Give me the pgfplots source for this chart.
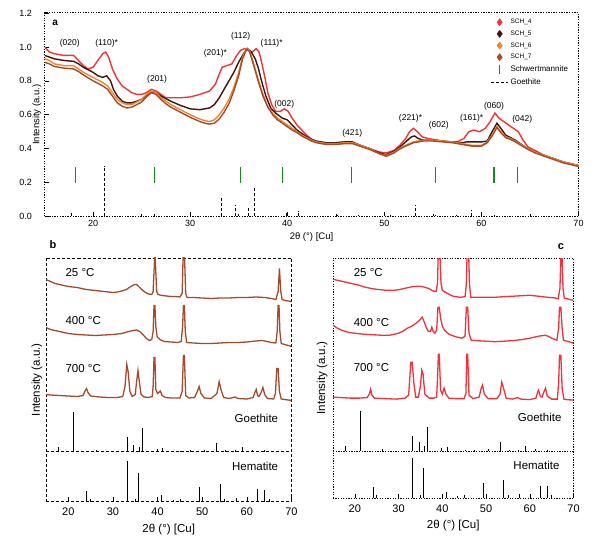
\documentclass[border=0pt]{standalone}
\usepackage{fontspec}
\setmainfont{Liberation Sans}
\usepackage{pgfplots}
\pgfplotsset{compat=1.18}
\definecolor{cA}{RGB}{240,52,55}
\definecolor{cB}{RGB}{62,22,14}
\definecolor{cC}{RGB}{240,135,45}
\definecolor{cD}{RGB}{165,75,45}
\definecolor{cG}{RGB}{20,140,30}
\definecolor{cR}{RGB}{240,50,60}
\tikzset{dotframe/.style={dash pattern=on 1.3pt off 1.3pt, line width=1pt}}
\pgfplotsset{
  sticks/.style={draw=none, mark=none, forget plot, error bars/.cd, y dir=plus, y explicit, error mark=none, error bar style={draw=black, solid, line width=0.9pt}},
  dsticks/.style={draw=none, mark=none, forget plot, error bars/.cd, y dir=plus, y explicit, error mark=none, error bar style={draw=black, densely dashed, line width=0.8pt}},
}
\begin{document}
\begin{tikzpicture}
\useasboundingbox (0pt,0pt) rectangle (605pt,536pt);
% ---------------- panel a ----------------
\begin{axis}[
  at={(44.5pt,319.5pt)}, anchor=south west, scale only axis,
  width=534pt, height=203.5pt,
  xmin=15, xmax=70, ymin=0, ymax=1.2,
  xtick={20,30,40,50,60,70}, ytick={0,0.2,0.4,0.6,0.8,1.0,1.2},
  minor x tick num=1, tick pos=left,
  y tick label style={/pgf/number format/fixed, /pgf/number format/fixed zerofill, /pgf/number format/precision=1, xshift=-9pt},
  tick label style={font=\fontsize{9}{10}\selectfont, /pgf/number format/assume math mode=true},
  axis line style={dotframe},
  tick style={black, solid, line width=0.5pt},
  xlabel={2θ (°) [Cu]}, ylabel={Intensity (a.u.)},
  label style={font=\fontsize{9.5}{11}\selectfont},
  xlabel style={at={(axis description cs:0.5,-0.10)}, anchor=center},
  ylabel style={at={(axis description cs:-0.014,0.5)}, anchor=center},
  legend style={at={(0.99,0.99)}, anchor=north east, draw=none, fill=none, font=\fontsize{8}{9.5}\selectfont, row sep=1.6pt},
  legend cell align=left,
]
\addplot[forget plot, cA, line width=1.4pt] coordinates {
(15,1.00)(15.5,0.97)(16,0.96)(17,0.95)(18,0.95)(18.5,0.92)(19,0.89)(19.5,0.87)(20,0.88)(20.5,0.92)(21,0.96)(21.3,0.97)(21.6,0.94)(22,0.87)(22.5,0.81)(23,0.77)(23.5,0.75)(24,0.73)(24.5,0.72)(25,0.72)(25.5,0.73)(26,0.75)(26.5,0.74)(27,0.72)(27.5,0.70)(28,0.70)(29,0.70)(30,0.705)(31,0.72)(32,0.74)(32.6,0.78)(33,0.84)(33.3,0.88)(33.8,0.89)(34.3,0.90)(34.8,0.95)(35.2,0.98)(35.6,0.99)(36.0,0.98)(36.4,0.97)(36.8,0.99)(37.1,0.97)(37.4,0.90)(37.7,0.82)(38.0,0.73)(38.4,0.66)(38.8,0.62)(39.3,0.62)(39.7,0.635)(40.1,0.62)(40.5,0.58)(41,0.54)(41.5,0.51)(42,0.48)(42.5,0.455)(43,0.44)(44,0.43)(45,0.435)(46,0.44)(46.7,0.435)(47.5,0.42)(48.5,0.40)(49.5,0.38)(50.2,0.375)(51,0.39)(51.6,0.42)(52.2,0.46)(52.6,0.50)(53.0,0.52)(53.4,0.50)(53.9,0.47)(54.5,0.46)(55.5,0.45)(56.5,0.44)(57.5,0.44)(58.2,0.46)(58.7,0.50)(59.2,0.51)(59.8,0.50)(60.4,0.52)(60.9,0.56)(61.4,0.61)(61.8,0.58)(62.3,0.56)(62.8,0.54)(63.3,0.52)(63.8,0.50)(64.3,0.45)(64.8,0.41)(65.5,0.39)(66.5,0.36)(67.5,0.34)(68.5,0.32)(69.3,0.31)(70,0.30)};
\addplot[forget plot, cB, line width=1.4pt] coordinates {
(15,0.95)(16,0.93)(17,0.92)(18,0.915)(18.5,0.90)(19,0.88)(20,0.85)(20.5,0.83)(21,0.82)(21.4,0.83)(21.8,0.80)(22.1,0.75)(22.5,0.71)(23,0.68)(23.5,0.67)(24,0.67)(25,0.69)(26,0.735)(26.5,0.73)(27,0.71)(28,0.68)(29,0.655)(30,0.635)(31,0.63)(32,0.64)(32.5,0.66)(33,0.70)(33.5,0.75)(34,0.80)(34.5,0.85)(35,0.91)(35.5,0.96)(35.9,0.99)(36.3,0.97)(36.7,0.93)(37,0.88)(37.4,0.79)(37.8,0.71)(38.3,0.64)(38.8,0.61)(39.5,0.58)(40,0.57)(40.5,0.54)(41,0.51)(41.5,0.49)(42,0.47)(42.5,0.455)(43,0.445)(44,0.435)(45,0.435)(46,0.44)(46.7,0.44)(47.5,0.42)(48.5,0.40)(49.5,0.375)(50.2,0.365)(51,0.385)(51.6,0.41)(52.2,0.44)(52.8,0.47)(53.1,0.475)(53.5,0.46)(54,0.45)(55,0.45)(56,0.445)(57,0.44)(58,0.435)(58.5,0.44)(59,0.44)(60,0.44)(60.6,0.445)(61.1,0.50)(61.6,0.55)(62,0.52)(62.5,0.48)(63,0.465)(63.5,0.45)(64.5,0.41)(65.5,0.38)(66.5,0.36)(67.5,0.34)(68.5,0.32)(69.3,0.31)(70,0.30)};
\addplot[forget plot, cC, line width=1.4pt] coordinates {
(15,0.93)(15.5,0.92)(16,0.90)(17,0.89)(17.5,0.89)(18,0.89)(18.5,0.87)(19,0.85)(20,0.82)(21,0.79)(21.5,0.77)(22,0.73)(22.5,0.69)(23,0.67)(23.5,0.66)(24,0.66)(25,0.69)(25.5,0.72)(26,0.74)(26.5,0.73)(27,0.70)(27.5,0.68)(28,0.66)(29,0.63)(30,0.60)(31,0.575)(31.5,0.565)(32,0.56)(32.5,0.57)(33,0.60)(33.5,0.64)(34,0.69)(34.5,0.76)(35,0.85)(35.4,0.94)(35.8,0.99)(36.1,0.98)(36.5,0.91)(37,0.81)(37.5,0.72)(38,0.65)(38.5,0.61)(39,0.58)(39.5,0.56)(40,0.54)(40.5,0.52)(41,0.50)(41.5,0.48)(42,0.465)(42.5,0.45)(43,0.44)(44,0.43)(45,0.43)(46,0.435)(46.7,0.435)(47.5,0.42)(48.5,0.40)(49.5,0.37)(50.2,0.36)(51,0.38)(51.5,0.40)(52.2,0.42)(53,0.44)(54,0.45)(55,0.45)(56,0.445)(57,0.44)(58,0.43)(59,0.42)(60,0.42)(60.6,0.44)(61.1,0.48)(61.6,0.53)(62,0.50)(62.5,0.47)(63,0.46)(63.5,0.445)(64.5,0.41)(65.5,0.38)(66.5,0.36)(67.5,0.34)(68.5,0.32)(69.3,0.31)(70,0.30)};
\addplot[forget plot, cD, line width=1.4pt] coordinates {
(15,0.91)(15.5,0.90)(16,0.885)(17,0.875)(18,0.87)(18.5,0.855)(19,0.835)(20,0.80)(21,0.77)(21.5,0.75)(22,0.71)(22.5,0.67)(23,0.65)(23.5,0.64)(24,0.645)(25,0.675)(25.5,0.705)(26,0.73)(26.5,0.72)(27,0.69)(27.5,0.665)(28,0.645)(29,0.615)(30,0.585)(31,0.56)(31.5,0.55)(32,0.545)(32.5,0.55)(33,0.575)(33.5,0.615)(34,0.665)(34.5,0.74)(35,0.83)(35.4,0.93)(35.8,0.985)(36.1,0.975)(36.5,0.90)(37,0.80)(37.5,0.71)(38,0.645)(38.5,0.60)(39,0.57)(39.5,0.55)(40,0.53)(40.5,0.51)(41,0.495)(41.5,0.475)(42,0.46)(42.5,0.445)(43,0.435)(44,0.425)(45,0.425)(46,0.43)(46.7,0.43)(47.5,0.415)(48.5,0.395)(49.5,0.37)(50.2,0.355)(51,0.375)(51.5,0.395)(52.2,0.415)(53,0.435)(54,0.445)(55,0.445)(56,0.44)(57,0.435)(58,0.425)(59,0.415)(60,0.415)(60.6,0.435)(61.1,0.475)(61.6,0.525)(62,0.495)(62.5,0.465)(63,0.455)(63.5,0.44)(64.5,0.405)(65.5,0.375)(66.5,0.355)(67.5,0.335)(68.5,0.315)(69.3,0.305)(70,0.295)};
% Schwertmannite reference ticks
\addplot[forget plot, only marks, mark=|, mark size=7.6pt, color=cG, mark options={line width=1.1pt}] coordinates {
(18.2,0.245)(26.3,0.245)(35.2,0.245)(39.5,0.245)(46.6,0.245)(55.3,0.245)(61.3,0.245)(63.7,0.245)};
% Goethite reference
\addplot[dsticks] table[x=x, y=y, y error=e] {
x y e
17.8 0 0.025
21.2 0 0.30
26.3 0 0.012
33.2 0 0.115
34.7 0 0.07
36.0 0 0.05
36.6 0 0.17
39.9 0 0.02
41.2 0 0.03
45.2 0 0.008
47.3 0 0.008
50.6 0 0.01
53.2 0 0.065
55.3 0 0.01
57.4 0 0.01
59.0 0 0.04
61.3 0 0.006
};
\addlegendimage{only marks, mark=diamond*, mark size=3.6pt, color=cA}
\addlegendentry{\fontsize{6.5}{8}\selectfont SCH\_4}
\addlegendimage{only marks, mark=diamond*, mark size=3.6pt, color=cB}
\addlegendentry{\fontsize{6.5}{8}\selectfont SCH\_5}
\addlegendimage{only marks, mark=diamond*, mark size=3.6pt, color=cC}
\addlegendentry{\fontsize{6.5}{8}\selectfont SCH\_6}
\addlegendimage{only marks, mark=diamond*, mark size=3.6pt, color=cD}
\addlegendentry{\fontsize{6.5}{8}\selectfont SCH\_7}
\addlegendimage{only marks, mark=|, mark size=4.5pt, color=cG, mark options={line width=1.1pt}}
\addlegendentry{Schwertmannite}
\addlegendimage{black, densely dashed, line width=0.8pt}
\addlegendentry{Goethite}
\begin{scope}[font=\fontsize{8.5}{10}\selectfont]
\node at (axis cs:17.6,1.02) {(020)};
\node at (axis cs:21.4,1.02) {(110)*};
\node at (axis cs:26.6,0.81) {(201)};
\node at (axis cs:32.6,0.96) {(201)*};
\node at (axis cs:35.2,1.065) {(112)};
\node at (axis cs:38.4,1.02) {(111)*};
\node at (axis cs:39.7,0.66) {(002)};
\node at (axis cs:46.7,0.49) {(421)};
\node at (axis cs:52.7,0.58) {(221)*};
\node at (axis cs:55.6,0.54) {(602)};
\node at (axis cs:59.0,0.58) {(161)*};
\node at (axis cs:61.3,0.65) {(060)};
\node at (axis cs:64.2,0.575) {(042)};
\end{scope}
\node[font=\bfseries\fontsize{10}{12}\selectfont] at (axis cs:16.1,1.14) {a};
\end{axis}
% ---------------- panel b ----------------
\begin{axis}[
  at={(46pt,34.5pt)}, anchor=south west, scale only axis,
  width=245.5pt, height=243.5pt,
  xmin=15, xmax=70, ymin=0, ymax=243.5,
  xtick={20,30,40,50,60,70}, ytick=\empty,
  minor x tick num=1, tick pos=left,
  tick label style={font=\fontsize{11}{12}\selectfont, /pgf/number format/assume math mode=true},
  xticklabel style={yshift=-3pt},
  axis line style={densely dashed, line width=0.9pt},
  tick style={black, solid, line width=0.5pt},
  xlabel={2θ (°) [Cu]}, ylabel={Intensity (a.u.)},
  label style={font=\fontsize{11.5}{13}\selectfont},
  xlabel style={at={(axis description cs:0.5,-0.117)}, anchor=center},
  ylabel style={at={(axis description cs:-0.037,0.5)}, anchor=center},
]
\addplot[forget plot, black, densely dashed, line width=0.9pt] coordinates {(15,50)(70,50)};
\addplot[forget plot, cD, line width=1.3pt] coordinates {
(15,222)(15.5,221)(16,220)(17,218)(18,217)(19,216)(20,215)(21,214.5)(22,214)(23,213)(24,212)(25,211.5)(26,211)(27,210.5)(28,210)(29,209.5)(30,209)(31,209.5)(32,210.5)(33,212)(34,215)(34.8,217)(35.3,217)(36,214)(36.7,211)(37.3,209)(38,207.5)(38.7,207)(39.0,210)(39.2,230)(39.4,250)(39.6,230)(39.8,210)(40.1,207)(41,206)(42,205.5)(43,205)(44,205)(45,204.5)(45.5,208)(45.75,250)(46.0,250)(46.3,208)(46.6,204)(48,204)(50,203.5)(52,203)(54,203.5)(56,203.5)(58,204)(60,204)(62,204.5)(64,204)(65.5,203)(66.5,202)(67.0,210)(67.3,233)(67.6,210)(67.9,202)(68.5,201)(69.3,200.5)(70,200)};
\addplot[forget plot, cD, line width=1.3pt] coordinates {
(15,174)(15.5,173)(16,172)(17,171)(18,170)(19,169)(20,168)(22,167)(24,166.5)(26,166)(28,166.5)(30,167)(32,168)(33.5,170)(34.5,171)(35.3,171.5)(36,170)(36.7,167)(37.5,163)(38.2,161)(38.7,162)(39.0,170)(39.2,196)(39.4,196)(39.6,175)(39.9,165)(40.5,162)(41.5,160)(43,159.5)(44.5,159)(45.3,160)(45.6,175)(45.8,196)(46.0,196)(46.2,170)(46.5,159)(48,158.5)(50,158)(52,158)(54,158.5)(56,159)(58,159)(60,159.5)(62,160.5)(63.5,161)(64.5,160)(65.5,159)(66.5,158.5)(66.8,170)(67.0,196)(67.2,196)(67.4,170)(67.7,158)(68.5,157)(69.3,156)(70,155)};
\addplot[forget plot, cD, line width=1.3pt] coordinates {
(15,107)(16,106.5)(18,106)(20,105.5)(22,105)(23.3,106)(23.8,111)(24.1,113)(24.4,109)(25,105.5)(27,104.5)(29,104)(31,104)(32.2,105)(32.7,115)(33.1,137)(33.4,130)(33.8,110)(34.3,105)(35.0,107)(35.3,120)(35.6,131)(35.9,120)(36.3,107)(37,104.5)(38,104)(38.8,105)(39.0,115)(39.2,144)(39.4,144)(39.6,112)(40.0,108)(40.6,110.5)(41.0,106)(41.8,104)(43,103.5)(45,103.5)(45.5,110)(45.8,146)(46.0,146)(46.3,106)(47,103.5)(48.3,104)(48.9,110)(49.3,115)(49.7,108)(50.5,103.5)(52,103)(53.3,108)(53.8,120)(54.2,112)(54.8,104)(56,103)(57.4,104.5)(58,103)(60,102.5)(61.4,104)(61.8,109)(62.1,112)(62.4,106)(62.7,105)(63.2,109)(63.6,114)(64.0,107)(64.6,103)(66.0,102.5)(66.4,108)(66.7,133)(67.0,133)(67.3,110)(67.7,102.5)(68.5,102)(70,101)};
\addplot[sticks] table[x=x, y=y, y error=e] {
x y e
17.8 50 5
21.2 50 40
26.3 50 2
33.2 50 15
34.7 50 7
36.0 50 5
36.6 50 23.5
39.9 50 3
41.2 50 4
45.2 50 1
47.3 50 1.5
50.6 50 2
53.2 50 8.5
55.3 50 1.5
57.4 50 1.5
59.0 50 5
61.3 50 2
64.0 50 1.5
};
\addplot[sticks] table[x=x, y=y, y error=e] {
x y e
24.14 0 11
33.15 0 41
35.61 0 29
40.85 0 7
43.5 0 2
49.48 0 15
54.09 0 18
57.59 0 4
62.45 0 13
64.0 0 12
};
\begin{scope}[font=\fontsize{11.5}{13}\selectfont]
\node[anchor=west] at (axis cs:18.6,229) {25 °C};
\node[anchor=west] at (axis cs:18.6,181) {400 °C};
\node[anchor=west] at (axis cs:18.6,133) {700 °C};
\node[anchor=east] at (axis cs:67.8,83) {Goethite};
\node[anchor=east] at (axis cs:67.8,35) {Hematite};
\end{scope}
\end{axis}
% ---------------- panel c ----------------
\begin{axis}[
  at={(333pt,38pt)}, anchor=south west, scale only axis,
  width=240.5pt, height=239.7pt,
  xmin=15, xmax=70, ymin=0, ymax=240,
  xtick={20,30,40,50,60,70}, ytick=\empty,
  minor x tick num=1, tick pos=left,
  tick label style={font=\fontsize{11}{12}\selectfont, /pgf/number format/assume math mode=true},
  xticklabel style={yshift=-3pt},
  axis line style={dotframe},
  tick style={black, solid, line width=0.5pt},
  xlabel={2θ (°) [Cu]}, ylabel={Intensity (a.u.)},
  label style={font=\fontsize{11.5}{13}\selectfont},
  xlabel style={at={(axis description cs:0.5,-0.113)}, anchor=center},
  ylabel style={at={(axis description cs:-0.045,0.5)}, anchor=center},
]
\addplot[forget plot, black, dotframe] coordinates {(15,47)(70,47)};
\addplot[forget plot, cR, line width=1.3pt] coordinates {
(15,219)(16,218)(17,217)(18,216)(19,215)(20,214)(21,213)(22,211.5)(23,210.5)(24,209.5)(25,209)(26,208.5)(27,208)(28,208)(29,208)(30,208.5)(31,209.5)(32,210.5)(33,211.5)(34,212)(35,212)(36,211)(37,209.5)(38,207)(38.6,207)(38.9,215)(39.1,250)(39.4,250)(39.7,215)(40.0,208)(40.7,206)(41.5,204)(42.5,202)(44,201)(45.2,201.5)(45.5,215)(45.7,250)(46.0,250)(46.2,215)(46.5,201)(48,201)(50,201)(52,201)(54,201.5)(56,202)(58,202.5)(60,203)(62,202)(64,201)(65.5,200.5)(66.5,199.5)(66.9,210)(67.1,240)(67.4,240)(67.6,210)(67.9,200)(68.5,199.5)(69.3,198.5)(70,198)};
\addplot[forget plot, cR, line width=1.3pt] coordinates {
(15,173)(16,170)(17,168)(18,166.5)(19,165.5)(20,165)(22,164)(24,163.5)(26,163)(28,163)(30,165)(31,167)(32,170)(33,172)(34,175)(34.8,178)(35.4,181)(35.9,176)(36.3,171)(36.8,167)(37.3,167)(37.6,171)(37.9,167)(38.3,165)(38.7,168)(39.0,191)(39.3,191)(39.6,180)(40.0,172)(40.5,168)(41.5,164)(43,161.5)(44.5,160)(45.2,162)(45.5,191)(45.8,191)(46.1,165)(46.6,158)(48,157.5)(50,157)(52,156.5)(54,157)(56,157.5)(58,158.5)(60,160)(62,162)(63.5,163)(64.2,162)(65,160)(66.2,158)(66.6,170)(66.8,191)(67.1,191)(67.4,170)(67.7,158)(68.5,157)(69.3,156)(70,155)};
\addplot[forget plot, cR, line width=1.3pt] coordinates {
(15,101)(17,100.5)(19,100)(21,100)(22.8,100.5)(23.3,104)(23.6,109)(23.9,103)(24.5,100)(27,99.5)(29.5,99)(31.5,100)(32.3,103)(32.8,136)(33.1,136)(33.5,115)(33.9,101)(34.5,101)(35.0,112)(35.3,128)(35.6,124)(36.0,104)(37,100)(38,100)(38.7,101)(38.9,120)(39.1,144)(39.3,144)(39.6,108)(40.0,104)(40.4,110)(40.8,104)(41.5,100)(43,99.5)(45,99.5)(45.4,105)(45.6,144)(45.8,144)(46.1,103)(47,99.5)(48.4,101)(48.9,110)(49.2,113)(49.6,104)(50.5,99.5)(52.5,99.5)(53.2,104)(53.6,116)(54.0,110)(54.6,100)(56,99)(57.2,100.5)(58,99)(60,98.5)(61.4,100)(61.8,106)(62.0,108)(62.4,102)(62.8,101)(63.3,107)(63.6,110)(64.0,102)(65,99)(66.3,99)(66.6,115)(66.8,143)(67.1,143)(67.4,110)(67.8,99)(68.5,98.5)(70,98)};
\addplot[sticks] table[x=x, y=y, y error=e] {
x y e
17.8 47 5
21.2 47 40
26.3 47 2
33.2 47 15
34.7 47 9
36.0 47 5
36.6 47 24
39.9 47 3
41.2 47 4
45.2 47 1
47.3 47 1.5
50.6 47 2
53.2 47 9
55.3 47 1.5
57.4 47 1.5
59.0 47 5
61.3 47 2
64.0 47 1.5
};
\addplot[sticks] table[x=x, y=y, y error=e] {
x y e
24.14 0 11
33.15 0 40
35.61 0 30
40.85 0 6
43.5 0 2
49.48 0 15
54.09 0 18
57.59 0 4
62.45 0 12
64.0 0 12
};
\begin{scope}[font=\fontsize{11.5}{13}\selectfont]
\node[anchor=west] at (axis cs:18.95,226) {25 °C};
\node[anchor=west] at (axis cs:18.95,176) {400 °C};
\node[anchor=west] at (axis cs:18.95,131) {700 °C};
\node[anchor=east] at (axis cs:68.05,81) {Goethite};
\node[anchor=east] at (axis cs:67.6,33) {Hematite};
\end{scope}
\end{axis}
\node[font=\bfseries\fontsize{11}{13}\selectfont] at (53pt,291pt) {b};
\node[font=\bfseries\fontsize{11}{13}\selectfont] at (561pt,289pt) {c};
\end{tikzpicture}
\end{document}
